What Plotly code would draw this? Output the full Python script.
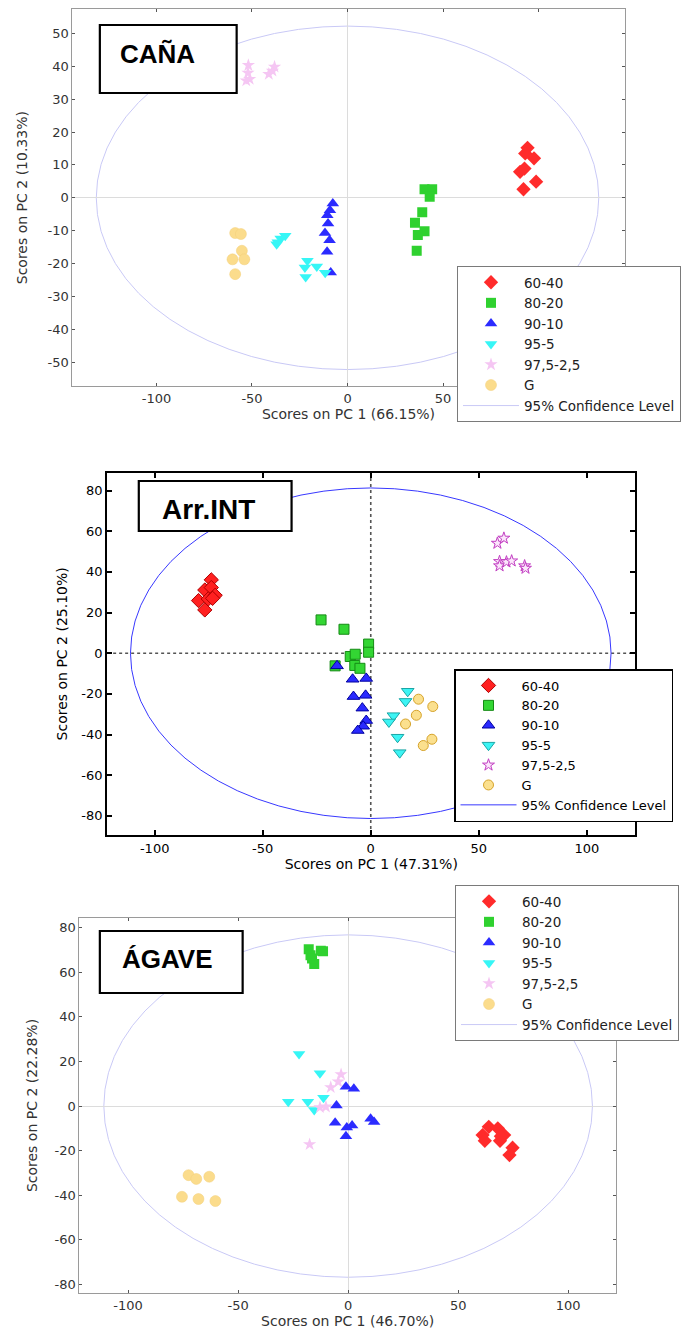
import plotly.graph_objects as go

# ---------------- data ----------------
SERIES = ["60-40", "80-20", "90-10", "95-5", "97,5-2,5", "G"]
CONF_NAME = "95% Confidence Level"

# Panel 1 : CAÑA
cana_x = {
    "60-40": [94.2, 93.0, 97.6, 92.6, 90.3, 98.7, 92.1],
    "80-20": [40.3, 44.3, 43.0, 39.1, 35.3, 40.3, 36.8, 36.2],
    "90-10": [-7.7, -9.2, -10.6, -10.2, -11.8, -9.4, -10.7, -8.8],
    "95-5": [-32.6, -35.0, -36.5, -37.1, -21.0, -22.3, -16.1, -21.9, -11.7],
    "97,5-2,5": [-51.9, -52.1, -51.2, -53.0, -41.2, -38.2, -39.3],
    "G": [-58.8, -55.8, -55.3, -60.2, -54.0, -58.8],
}
cana_y = {
    "60-40": [15.2, 13.5, 12.0, 8.9, 7.9, 4.9, 2.6],
    "80-20": [2.6, 2.6, 0.3, -4.4, -7.6, -10.2, -11.3, -16.1],
    "90-10": [-1.7, -3.8, -5.3, -7.8, -10.7, -12.9, -16.4, -22.7],
    "95-5": [-11.5, -12.4, -13.5, -14.1, -19.1, -21.2, -20.9, -24.1, -22.8],
    "97,5-2,5": [40.3, 38.0, 36.1, 35.6, 37.6, 39.8, 38.6],
    "G": [-10.7, -11.0, -16.1, -18.7, -18.7, -23.2],
}
cana_ellipse = [131.5, 52.2]
cana_range_x = [-144, 145]
cana_range_y = [-57.2, 57.3]
cana_xticks = [-100, -50, 0, 50, 100]
cana_xticktext = ["-100", "-50", "0", "50", ""]   # "100" is hidden by the legend
cana_yticks = [-50, -40, -30, -20, -10, 0, 10, 20, 30, 40, 50]
cana_yticktext = ["-50", "-40", "-30", "-20", "-10", "0", "10", "20", "30", "40", "50"]

# Panel 2 : Arr.INT
arr_x = {
    "60-40": [-73.8, -76.8, -73.8, -79.7, -75.2, -72.0, -73.2, -76.8],
    "80-20": [-23.0, -12.4, -1.0, -1.0, -9.5, -7.2, -7.4, -5.0, -16.5],
    "90-10": [-15.6, -8.4, -2.1, -8.0, -2.4, -3.9, -2.1, -3.5, -6.0],
    "95-5": [17.1, 16.1, 10.5, 8.4, 12.4, 13.4],
    "97,5-2,5": [58.6, 61.6, 59.6, 59.6, 62.8, 65.2, 71.2, 71.6],
    "G": [22.1, 28.7, 21.1, 16.1, 28.3, 24.3],
}
arr_y = {
    "60-40": [36.1, 31.1, 32.3, 25.9, 26.7, 28.5, 27.0, 21.3],
    "80-20": [16.4, 11.8, 4.5, 0.5, -1.6, -0.5, -6.0, -7.4, -6.2],
    "90-10": [-6.2, -12.8, -12.4, -21.3, -20.7, -27.0, -33.1, -35.9, -38.0],
    "95-5": [-18.7, -23.7, -30.7, -33.8, -41.3, -48.9],
    "97,5-2,5": [54.1, 56.6, 45.1, 43.0, 44.9, 45.4, 43.0, 41.8],
    "G": [-22.6, -26.2, -30.5, -34.8, -42.3, -45.4],
}
arr_ellipse = [111.2, 81.3]
arr_range_x = [-122, 122.5]
arr_range_y = [-89.4, 88.8]
arr_xticks = [-100, -50, 0, 50, 100]
arr_xticktext = ["-100", "-50", "0", "50", "100"]
arr_yticks = [-80, -60, -40, -20, 0, 20, 40, 60, 80]
arr_yticktext = ["-80", "-60", "-40", "-20", "0", "20", "40", "60", "80"]

# Panel 3 : ÁGAVE
agave_x = {
    "60-40": [63.9, 61.1, 62.1, 68.0, 70.9, 69.0, 69.4, 74.7, 73.3],
    "80-20": [-17.9, -11.4, -12.4, -17.1, -15.4, -16.4],
    "90-10": [-1.0, 2.6, -5.3, -5.9, 1.8, -0.6, -1.0, 10.2, 11.8],
    "95-5": [-22.3, -12.8, -27.2, -18.3, -11.2, -15.4],
    "97,5-2,5": [-3.2, -4.5, -7.9, -12.8, -10.1, -17.5],
    "G": [-72.5, -69.0, -63.1, -75.5, -68.0, -60.3],
}
agave_y = {
    "60-40": [-9.3, -13.0, -15.6, -10.0, -13.0, -15.6, -13.5, -18.7, -22.0],
    "80-20": [70.3, 69.5, 69.7, 67.7, 63.7, 66.2],
    "90-10": [8.7, 7.8, 0.3, -7.5, -8.7, -9.6, -13.5, -5.7, -7.2],
    "95-5": [23.3, 14.7, 1.9, 1.9, 3.7, -1.8],
    "97,5-2,5": [14.2, 10.9, 8.4, -0.6, -0.3, -17.2],
    "G": [-31.0, -32.7, -31.7, -40.7, -41.7, -42.6],
}
agave_ellipse = [111.0, 76.8]
agave_range_x = [-122.1, 121.7]
agave_range_y = [-84.0, 84.5]
agave_xticks = [-100, -50, 0, 50, 100]
agave_xticktext = ["-100", "-50", "0", "50", "100"]
agave_yticks = [-80, -60, -40, -20, 0, 20, 40, 60, 80]
agave_yticktext = ["-80", "-60", "-40", "-20", "0", "20", "40", "60", "80"]

panel_titles = ["CAÑA", "Arr.INT", "ÁGAVE"]
x_titles = ["Scores on PC 1 (66.15%)", "Scores on PC 1 (47.31%)", "Scores on PC 1 (46.70%)"]
y_titles = ["Scores on PC 2 (10.33%)", "Scores on PC 2 (25.10%)", "Scores on PC 2 (22.28%)"]

# ---------------- styling ----------------
W, H = 681, 1330
FONT = "DejaVu Sans"
BOLD_FONT = "Liberation Sans"

def px(x):
    return x / W

def py(y):
    return 1 - y / H

symbols = {"60-40": "diamond", "80-20": "square", "90-10": "triangle-up",
           "95-5": "triangle-down", "97,5-2,5": "star", "G": "circle"}

light_style = {
    "60-40": dict(color="#ff2b2b", size=11, line=dict(width=0)),
    "80-20": dict(color="#2fd12f", size=10, line=dict(width=0)),
    "90-10": dict(color="#2b2bff", size=11, line=dict(width=0)),
    "95-5": dict(color="#36f6f6", size=11, line=dict(width=0)),
    "97,5-2,5": dict(color="#f5c6f3", size=10, line=dict(width=0)),
    "G": dict(color="#fbdc8c", size=11, line=dict(color="#f2cf78", width=0.5)),
}
dark_style = {
    "60-40": dict(color="#ff2020", size=11, line=dict(color="#b00000", width=1)),
    "80-20": dict(color="#33d633", size=10, line=dict(color="#158a15", width=1)),
    "90-10": dict(color="#2a2aff", size=11, line=dict(color="#0000a0", width=1)),
    "95-5": dict(color="#3cf4f4", size=11, line=dict(color="#1aa6a6", width=1)),
    "97,5-2,5": dict(color="#fbe6fb", size=9, line=dict(color="#c23ec2", width=1)),
    "G": dict(color="#fbe08e", size=10, line=dict(color="#d6a32a", width=1)),
}

fig = go.Figure()

panels = [
    dict(xs=cana_x, ys=cana_y, ell=cana_ellipse, rx=cana_range_x, ry=cana_range_y,
         xt=cana_xticks, xtt=cana_xticktext, yt=cana_yticks, ytt=cana_yticktext,
         style=light_style, ell_color="#c9c9f6", legend="legend",
         xdom=[px(72.5), px(625.5)], ydom=[py(386), py(9.3)]),
    dict(xs=arr_x, ys=arr_y, ell=arr_ellipse, rx=arr_range_x, ry=arr_range_y,
         xt=arr_xticks, xtt=arr_xticktext, yt=arr_yticks, ytt=arr_yticktext,
         style=dark_style, ell_color="#3838ff", legend="legend2",
         xdom=[px(107.3), px(636.4)], ydom=[py(835), py(472.7)]),
    dict(xs=agave_x, ys=agave_y, ell=agave_ellipse, rx=agave_range_x, ry=agave_range_y,
         xt=agave_xticks, xtt=agave_xticktext, yt=agave_yticks, ytt=agave_yticktext,
         style=light_style, ell_color="#c9c9f6", legend="legend3",
         xdom=[px(79.5), px(616.9)], ydom=[py(1293.3), py(917.7)]),
]

shapes = []
for i, p in enumerate(panels):
    n = "" if i == 0 else str(i + 1)
    xa, ya = "x" + n, "y" + n
    for s in SERIES:
        fig.add_trace(go.Scatter(
            x=p["xs"][s], y=p["ys"][s], mode="markers", name=s,
            marker=dict(symbol=symbols[s], **p["style"][s]),
            xaxis=xa, yaxis=ya, legend=p["legend"], showlegend=True))
    fig.add_trace(go.Scatter(
        x=[None], y=[None], mode="lines", name=CONF_NAME,
        line=dict(color=p["ell_color"], width=1),
        xaxis=xa, yaxis=ya, legend=p["legend"]))
    a, b = p["ell"]
    shapes.append(dict(type="circle", xref=xa, yref=ya, x0=-a, x1=a, y0=-b, y1=b,
                       line=dict(color=p["ell_color"], width=1), layer="below"))

# dotted zero lines for panel 2
shapes.append(dict(type="line", xref="x2", yref="y2 domain", x0=0, x1=0, y0=0, y1=1,
                   line=dict(color="#555555", width=1.6, dash="dot"), layer="below"))
shapes.append(dict(type="line", xref="x2 domain", yref="y2", x0=0, x1=1, y0=0, y1=0,
                   line=dict(color="#555555", width=1.6, dash="dot"), layer="below"))

# title boxes
boxes = [(100, 25, 237, 93), (139, 481, 292, 531), (100, 931, 243, 993)]
for (x0, y0, x1, y1) in boxes:
    shapes.append(dict(type="rect", xref="paper", yref="paper",
                       x0=px(x0), x1=px(x1), y0=py(y1), y1=py(y0),
                       line=dict(color="black", width=2.2), fillcolor="white", layer="above"))

annotations = []
title_pos = [(158, 54, 26), (209, 509, 28), (167.5, 959, 26)]
for t, (cx, cy, fs) in zip(panel_titles, title_pos):
    annotations.append(dict(text="<b>%s</b>" % t, xref="paper", yref="paper",
                            x=px(cx), y=py(cy), xanchor="center", yanchor="middle",
                            showarrow=False, font=dict(family=BOLD_FONT, size=fs, color="black")))


def axis(dom, anchor, rng, tv, tt, title, light, standoff):
    col = "#333333" if light else "#000000"
    return dict(domain=dom, anchor=anchor, range=rng, tickmode="array",
                tickvals=tv, ticktext=tt, ticks="inside",
                ticklen=3 if light else 5, tickwidth=1 if light else 1.5,
                tickcolor="#555555" if light else "#000000",
                showline=True, linecolor="#9a9a9a" if light else "#000000",
                linewidth=1 if light else 2, mirror="ticks", showgrid=False,
                zeroline=light, zerolinecolor="#dcdcdc", zerolinewidth=1,
                tickfont=dict(family=FONT, size=13, color=col),
                title=dict(text=title, font=dict(family=FONT, size=14, color=col), standoff=standoff),
                fixedrange=True)

layout = dict(width=W, height=H, margin=dict(l=0, r=0, t=0, b=0),
              paper_bgcolor="white", plot_bgcolor="white",
              shapes=shapes, annotations=annotations)

y_standoffs = [16, 10, 13]
for i, p in enumerate(panels):
    n = "" if i == 0 else str(i + 1)
    light = i != 1
    layout["xaxis" + n] = axis(p["xdom"], "y" + n, p["rx"], p["xt"], p["xtt"], x_titles[i], light, 4)
    layout["yaxis" + n] = axis(p["ydom"], "x" + n, p["ry"], p["yt"], p["ytt"], y_titles[i], light, y_standoffs[i])

layout["legend"] = dict(x=px(458), y=py(266), xanchor="left", yanchor="top",
                        bgcolor="white", bordercolor="#7a7a7a", borderwidth=1,
                        font=dict(family=FONT, size=13.5, color="#222222"),
                        itemwidth=56, tracegroupgap=0)
layout["legend2"] = dict(x=px(454), y=py(669), xanchor="left", yanchor="top",
                         bgcolor="white", bordercolor="#000000", borderwidth=1.5,
                         font=dict(family=FONT, size=13, color="#000000"),
                         itemwidth=56, tracegroupgap=0)
layout["legend3"] = dict(x=px(455), y=py(885), xanchor="left", yanchor="top",
                         bgcolor="white", bordercolor="#7a7a7a", borderwidth=1,
                         font=dict(family=FONT, size=13.5, color="#222222"),
                         itemwidth=56, tracegroupgap=0)

fig.update_layout(**layout)
fig.write_html("out.html")
